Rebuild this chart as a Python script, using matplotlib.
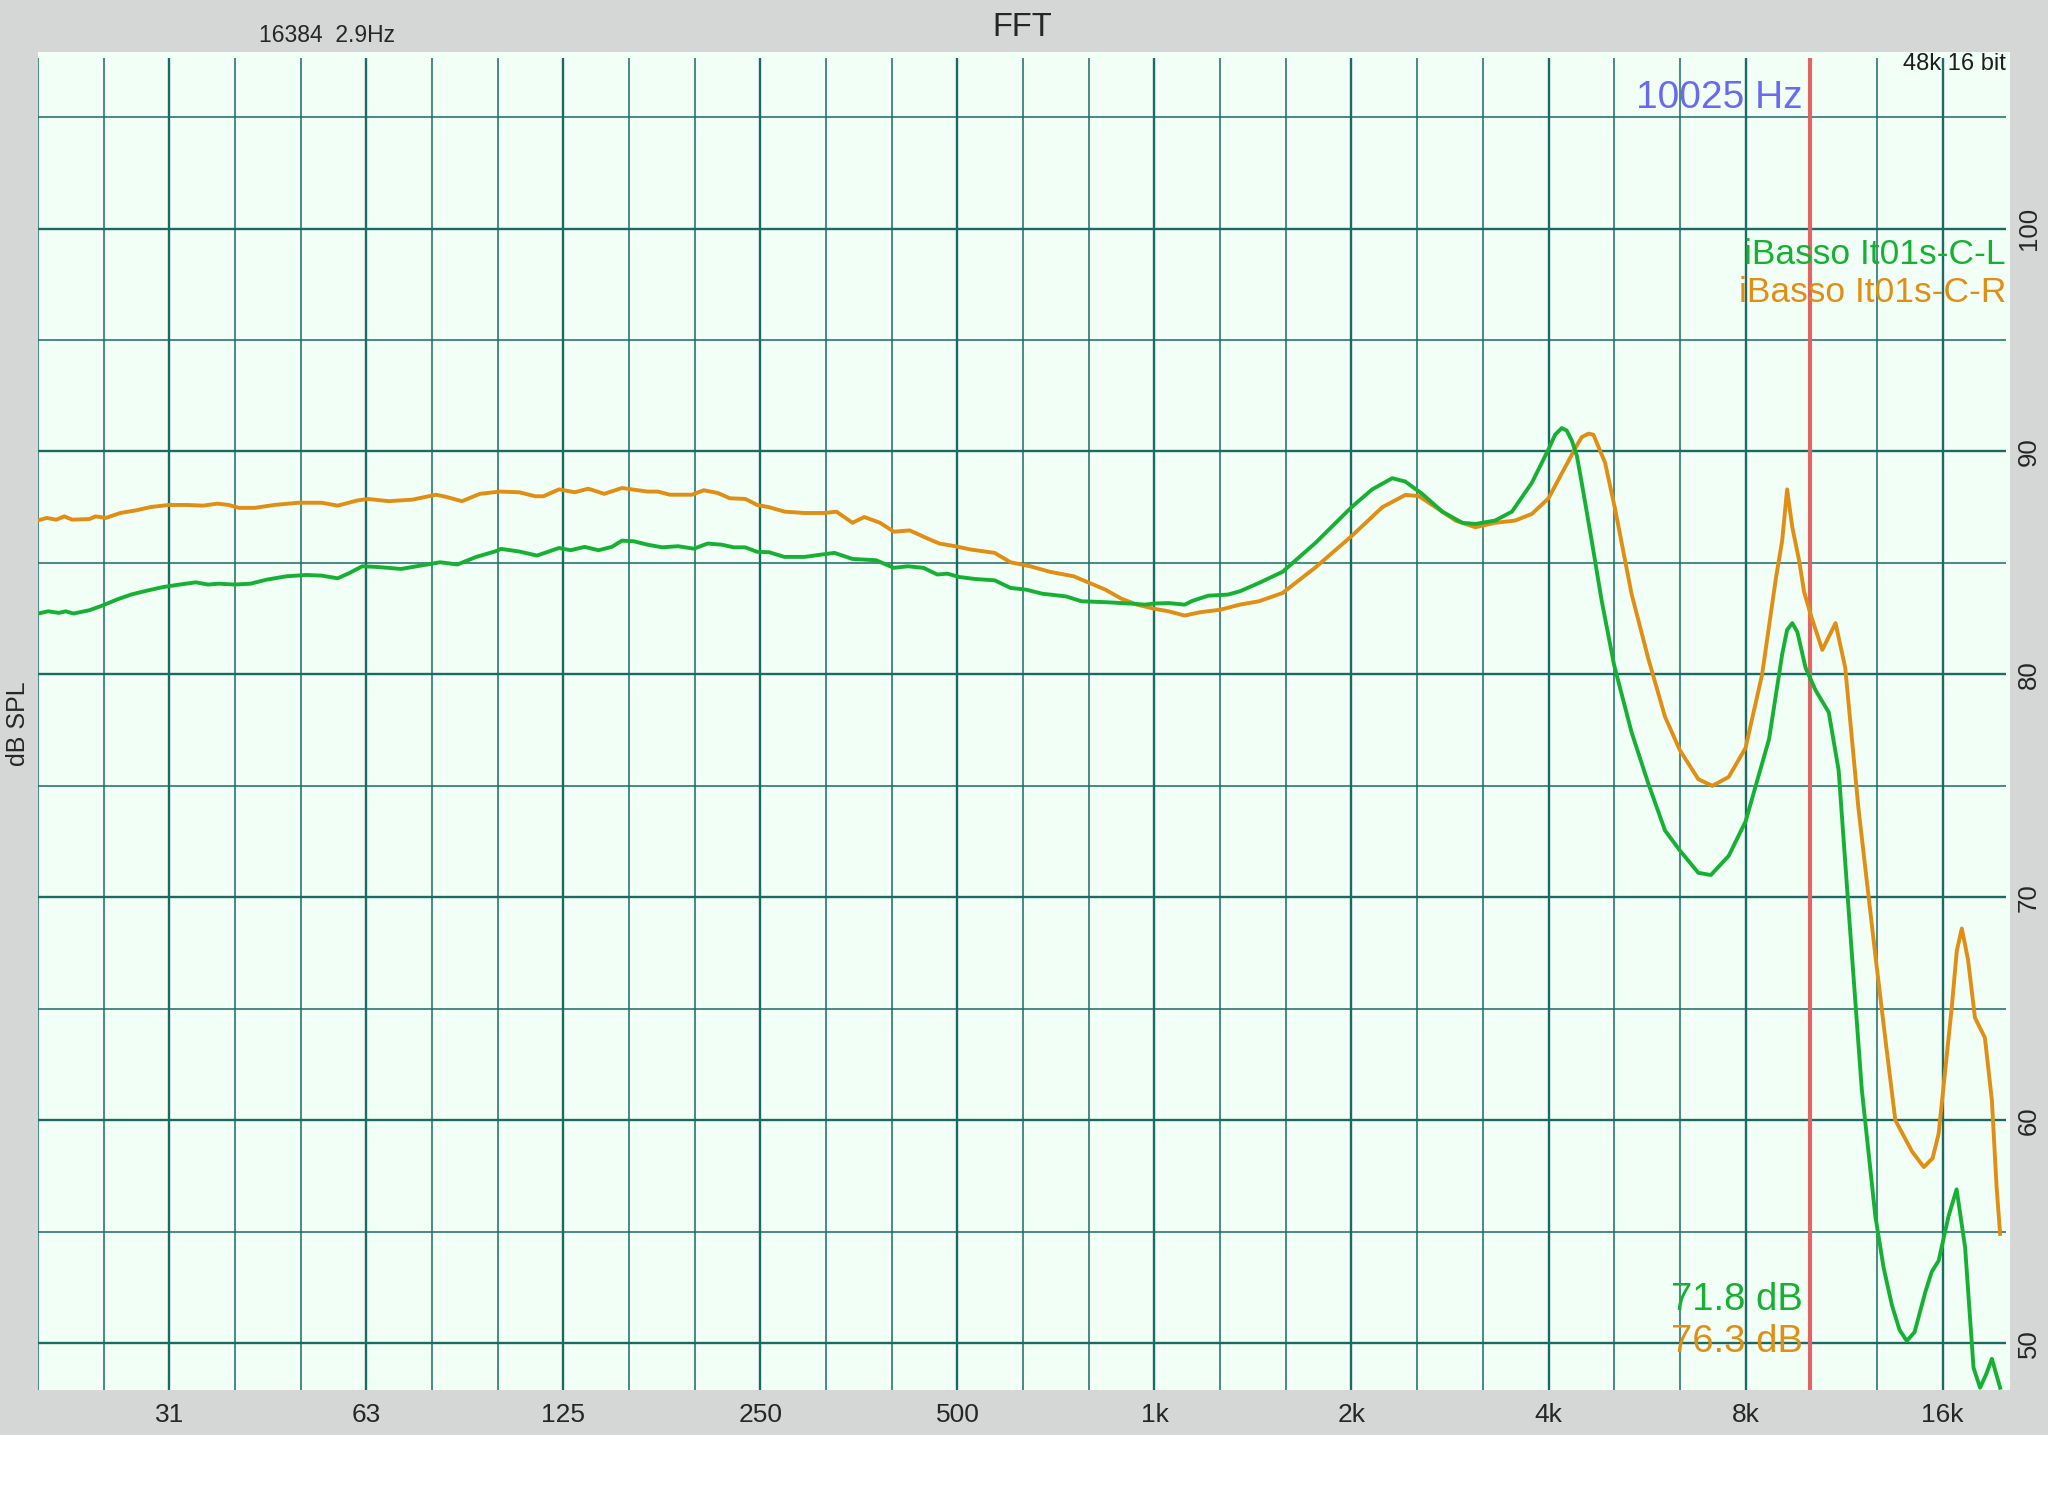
import matplotlib
matplotlib.use("Agg")
import matplotlib.pyplot as plt
from matplotlib.patches import Rectangle
from matplotlib.transforms import blended_transform_factory

plt.rcParams['font.family'] = ['Liberation Sans', 'DejaVu Sans']

# ---------------- data ----------------
freq_L = [19.7, 20.4, 21.2, 21.7, 22.3, 23.6, 24.7, 26.0, 27.3, 29.0, 30.6, 32.4, 34.3, 35.8,
          37.2, 39.3, 41.6, 44.0, 47.2, 50.6, 53.4, 56.5, 58.9, 61.6, 64.9, 70.6, 75.6, 81.0,
          86.1, 92.0, 98.4, 100.4, 107.1, 113.9, 123.1, 128.2, 134.7, 141.4, 148.2, 153.6,
          160.2, 168, 177, 187, 197.8, 207.7, 218, 227.6, 237, 247, 257.7, 272, 292, 309,
          324.4, 345.6, 375.5, 399.8, 419.7, 443.6, 465.9, 482.3, 503, 531.6, 570, 602.6,
          637, 673.5, 732, 774, 841.5, 915, 967, 1000, 1051, 1112, 1143, 1208, 1295, 1351,
          1444, 1569, 1762, 2000, 2151, 2308, 2417, 2564, 2753, 2954, 3093, 3314, 3517, 3773,
          4000, 4094, 4191, 4264, 4340, 4420, 4495, 4656, 4823, 5040, 5358, 5683, 6026, 6350,
          6775, 7080, 7540, 8000, 8690, 9100, 9260, 9430, 9600, 9880, 10230, 10720, 11100,
          11500, 12040, 12630, 13000, 13390, 13750, 14110, 14500, 15060, 15400, 15780, 16340,
          16810, 17320, 17840, 18260, 18650, 19030, 19590]
spl_L = [82.73, 82.83, 82.76, 82.83, 82.73, 82.88, 83.09, 83.36, 83.58, 83.77, 83.92, 84.03,
         84.13, 84.03, 84.07, 84.03, 84.07, 84.25, 84.40, 84.46, 84.43, 84.31, 84.55, 84.85,
         84.82, 84.73, 84.88, 85.03, 84.93, 85.27, 85.52, 85.63, 85.51, 85.33, 85.67, 85.57,
         85.72, 85.57, 85.72, 86.00, 85.97, 85.82, 85.70, 85.75, 85.64, 85.87, 85.82, 85.70,
         85.70, 85.50, 85.48, 85.27, 85.27, 85.37, 85.45, 85.18, 85.12, 84.78, 84.85, 84.78,
         84.48, 84.52, 84.37, 84.28, 84.22, 83.88, 83.80, 83.62, 83.50, 83.28, 83.24, 83.18,
         83.13, 83.18, 83.20, 83.13, 83.30, 83.53, 83.58, 83.73, 84.10, 84.60, 85.90, 87.50,
         88.30, 88.80, 88.65, 88.10, 87.30, 86.80, 86.75, 86.90, 87.30, 88.60, 90.10, 90.75,
         91.05, 90.94, 90.50, 89.80, 88.60, 86.00, 83.30, 80.40, 77.40, 75.10, 73.00, 72.10,
         71.10, 71.00, 71.86, 73.40, 77.10, 80.90, 82.00, 82.30, 81.90, 80.30, 79.30, 78.30,
         75.70, 69.40, 61.40, 55.70, 53.40, 51.70, 50.60, 50.10, 50.50, 52.30, 53.20, 53.70,
         55.70, 56.90, 54.30, 48.90, 48.00, 48.60, 49.30, 48.00]

freq_R = [19.7, 20.3, 21.0, 21.6, 22.2, 23.6, 24.1, 25.0, 26.3, 27.8, 29.3, 31.2, 33.3, 35.2,
          37.0, 38.5, 39.9, 42.2, 45.2, 49.2, 53.4, 56.5, 60.5, 62.8, 67.6, 73.5, 79.9, 82.8,
          87.5, 93.2, 99.9, 107.1, 113.2, 116.5, 123.1, 130.1, 136.4, 144.3, 153.6, 162.4,
          168.2, 174.3, 181.8, 196.5, 204.8, 215, 224.5, 237.1, 247.2, 257.7, 272.4, 292.1,
          313.3, 326.7, 345.6, 360.3, 380.8, 399.8, 422.6, 449.8, 469.2, 495.9, 524.3, 570.1,
          602.6, 645.9, 692.6, 752.8, 796, 841.5, 889.6, 940.6, 1000, 1051, 1112, 1175, 1260,
          1351, 1444, 1569, 1762, 2000, 2229, 2417, 2533, 2688, 2884, 3093, 3314, 3556, 3773,
          4000, 4241, 4444, 4495, 4605, 4685, 4769, 4880, 5057, 5358, 5683, 6026, 6350, 6775,
          7120, 7540, 8000, 8480, 8900, 9100, 9260, 9430, 9660, 9830, 10080, 10480, 10980,
          11360, 11900, 12630, 13100, 13550, 14370, 14980, 15450, 15780, 16530, 16820, 17120,
          17500, 17930, 18570, 19030, 19350, 19590]
spl_R = [86.91, 87.02, 86.94, 87.09, 86.94, 86.97, 87.09, 87.02, 87.24, 87.36, 87.51, 87.60,
         87.60, 87.57, 87.66, 87.60, 87.47, 87.47, 87.60, 87.70, 87.70, 87.57, 87.80, 87.87,
         87.77, 87.84, 88.06, 87.96, 87.77, 88.10, 88.20, 88.17, 87.99, 87.99, 88.30, 88.17,
         88.33, 88.10, 88.36, 88.26, 88.20, 88.20, 88.06, 88.06, 88.26, 88.14, 87.90, 87.87,
         87.60, 87.50, 87.30, 87.24, 87.24, 87.30, 86.80, 87.06, 86.80, 86.40, 86.46, 86.10,
         85.87, 85.75, 85.60, 85.45, 85.03, 84.85, 84.60, 84.40, 84.10, 83.80, 83.40, 83.13,
         82.94, 82.83, 82.64, 82.79, 82.90, 83.13, 83.28, 83.65, 84.80, 86.20, 87.50, 88.05,
         88.00, 87.50, 86.90, 86.60, 86.80, 86.90, 87.20, 87.90, 89.30, 90.40, 90.64, 90.80,
         90.75, 90.20, 89.50, 87.40, 83.60, 80.70, 78.10, 76.60, 75.30, 75.00, 75.40, 76.70,
         80.00, 84.30, 86.00, 88.30, 86.60, 85.10, 83.70, 82.60, 81.10, 82.30, 80.30, 74.00,
         67.40, 63.50, 60.00, 58.60, 57.90, 58.30, 59.40, 65.10, 67.60, 68.60, 67.20, 64.60,
         63.70, 60.90, 57.00, 54.90]

series_names = ["iBasso It01s-C-L", "iBasso It01s-C-R"]
cursor_values = ["71.8 dB", "76.3 dB"]
cursor_freq = 10025
x_tick_values = [31.25, 62.5, 125, 250, 500, 1000, 2000, 4000, 8000, 16000]
x_tick_labels = ["31", "63", "125", "250", "500", "1k", "2k", "4k", "8k", "16k"]
y_tick_values = [50, 60, 70, 80, 90, 100]

# ---------------- styling ----------------
W, H = 2048, 1496
GREEN = "#17b035"
ORANGE = "#e08e14"
GRID = "#1c6b63"
GRAY = "#d5d6d6"
PANEL = "#f2fff6"
RED = "#e06666"
TXT = "#262626"


def fx(px):
    return px / W


def fy(py):
    return 1 - py / H


fig = plt.figure(figsize=(W / 100, H / 100), dpi=100, facecolor="white")
fig.add_artist(Rectangle((0, fy(1435)), 1, 1 - fy(1435), transform=fig.transFigure,
                         facecolor=GRAY, edgecolor="none", zorder=-20))
fig.add_artist(Rectangle((fx(38), fy(1390)), fx(2010) - fx(38), fy(52) - fy(1390),
                         transform=fig.transFigure, facecolor=PANEL, edgecolor="none", zorder=-10))

ax = fig.add_axes([fx(38), fy(1390), fx(2006) - fx(38), fy(58) - fy(1390)])
ax.set_facecolor("none")
ax.set_xscale("log")
ax.set_xlim(1000 * 2 ** (-17 / 3), 20000)
ax.set_ylim(47.9, 107.65)
for s in ax.spines.values():
    s.set_visible(False)

# grid: 1/3-octave verticals, 5 dB horizontals
for k in range(-17, 13):
    f = 1000 * 2 ** (k / 3)
    ax.axvline(f, color=GRID, lw=1.7 if k % 3 == 0 else 1.1, zorder=1)
for db in range(50, 106, 5):
    ax.axhline(db, color=GRID, lw=1.7 if db % 10 == 0 else 1.1, zorder=1)

ax.axvline(cursor_freq, color=RED, lw=3.0, zorder=3)

ax.plot(freq_L, spl_L, color=GREEN, lw=2.8, zorder=5, solid_joinstyle="round")
ax.plot(freq_R, spl_R, color=ORANGE, lw=2.8, zorder=4, solid_joinstyle="round")

ax.set_xticks(x_tick_values)
ax.set_xticklabels(x_tick_labels)
ax.xaxis.set_minor_locator(matplotlib.ticker.NullLocator())
ax.tick_params(axis="x", length=0, pad=9, labelsize=19, labelcolor=TXT)
ax.set_yticks([])

tr = blended_transform_factory(fig.transFigure, ax.transData)
for v in y_tick_values:
    ax.text(fx(2029), v, str(v), transform=tr, rotation=90, ha="center", va="center",
            fontsize=18.5, color=TXT, clip_on=False)

# texts
fig.text(fx(1022), fy(27), "FFT", ha="center", va="center", fontsize=23.5, color=TXT)
fig.text(fx(259), fy(36), "16384  2.9Hz", ha="left", va="center", fontsize=16.5, color=TXT)
fig.text(fx(18), fy(724), "dB SPL", ha="center", va="center", rotation=90, fontsize=18,
         color=TXT)
fig.text(fx(2006), fy(64), "48k 16 bit", ha="right", va="center", fontsize=17,
         color="#1e1e1e", zorder=6)
fig.text(fx(1802), fy(98), f"{cursor_freq} Hz", ha="right", va="center", fontsize=28,
         color="#6a6af0", zorder=6)
fig.text(fx(2006), fy(255), series_names[0], ha="right", va="center", fontsize=25.5,
         color=GREEN, zorder=6)
fig.text(fx(2006), fy(292), series_names[1], ha="right", va="center", fontsize=25.5,
         color=ORANGE, zorder=6)
fig.text(fx(1803), fy(1300), cursor_values[0], ha="right", va="center", fontsize=27.5,
         color=GREEN, zorder=6)
fig.text(fx(1803), fy(1342), cursor_values[1], ha="right", va="center", fontsize=27.5,
         color=ORANGE, zorder=6)

fig.savefig("out.png", dpi=100, facecolor="white")
